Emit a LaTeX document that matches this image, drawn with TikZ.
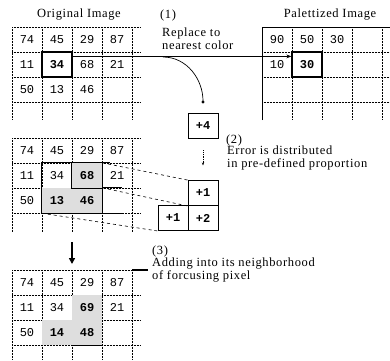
\documentclass[tikz,border=0pt]{standalone}
\usepackage{fontspec}
\usetikzlibrary{arrows.meta}
\newfontfamily\lblfamily[LetterSpace=5]{Liberation Serif}
\newfontfamily\numfamily{Liberation Mono}
\newcommand\lbltext{\lblfamily\fontsize{12.5}{13}\selectfont}
\newcommand\numtext{\numfamily\fontsize{12}{12}\selectfont}

\begin{document}
\begin{tikzpicture}[x=1pt,y=-1pt,
                    every node/.style={inner sep=1pt},
                    cellval/.style={font=\numtext},
                    cellbold/.style={font=\numtext\bfseries},
                    gridln/.style={densely dotted,line width=0.5pt},
                    shadecell/.style={fill=black!13,minimum width=30pt,minimum height=25pt,font=\numtext\bfseries},
                    focusbox/.style={draw,line width=1.2pt,minimum width=30pt,minimum height=25pt,font=\numtext\bfseries},
                    errbox/.style={draw,line width=0.9pt,minimum width=30pt,minimum height=25pt,font=\numtext\bfseries},
                    lbl/.style={font=\lbltext,anchor=west,align=left,inner sep=0pt}
                  ]
  \useasboundingbox (0,0) rectangle (390,360);

  \foreach \gx/\gy/\gr/\gb in {12/27/140/120, 262/27/390/120, 12/138/140/232, 12/270/140/360}{
    \foreach \dy in {0,25,50,75}
      \draw[gridln] (\gx,\gy+\dy) -- (\gr,\gy+\dy);
    \foreach \dx in {0,30,60,90,120}
      \draw[gridln] (\gx+\dx,\gy) -- (\gx+\dx,\gb);
  }
  \draw[line width=0.8pt] (262,120) -- (262,27) -- (390,27);

  \node (origtitle) at (79,15) {\lbltext Original Image};
  \node (paltitle) at (330,15) {\lbltext Palettized Image};

  \foreach \v [count=\c] in {74,45,29,87}
    \node[cellval] (oa\c) at (-3+30*\c,39.5) {\v};
  \node[cellval] (ob1) at (27,64.5) {11};
  \node[focusbox] (box34) at (57,64.5) {34};
  \node[cellval] (ob3) at (87,64.5) {68};
  \node[cellval] (ob4) at (117,64.5) {21};
  \foreach \v [count=\c] in {50,13,46}
    \node[cellval] (oc\c) at (-3+30*\c,89.5) {\v};

  \foreach \v [count=\c] in {90,50,30}
    \node[cellval] (pa\c) at (247+30*\c,39.5) {\v};
  \node[cellval] (pb1) at (277,64.5) {10};
  \node[focusbox] (box30) at (307,64.5) {30};

  \coordinate (split) at (163,57);
  \draw[line width=0.8pt,-{Stealth[length=5pt]}] ([yshift=-5pt]box34.north east) -- ([yshift=-5pt]box30.north west);

  \node[lbl] (step1) at (160,15) {(1)};
  \node[lbl] (step1txt) at (162,38.5) {Replace to\\nearest color};

  \node[errbox] (err4) at (203,125.5) {+4};
  \draw[line width=0.7pt,-{Circle[length=3pt]}] (split) to[out=0,in=90] ([yshift=9pt]err4.north);
  \draw[densely dotted,line width=0.7pt,-{Stealth[length=3pt]}] ([yshift=-12pt]err4.south) -- ([yshift=-27pt]err4.south);

  \node[lbl] (step2) at (226,140) {(2)};
  \node[lbl] (step2txt) at (227,158) {Error is distributed\\in pre-defined proportion};

  \foreach \v [count=\c] in {74,45,29,87}
    \node[cellval] (ma\c) at (-3+30*\c,150.5) {\v};
  \node[cellval] (mb1) at (27,175.5) {11};
  \node[cellval] (mb2) at (57,175.5) {34};
  \node[shadecell] (c68) at (87,175.5) {68};
  \node[cellval] (mb4) at (117,175.5) {21};
  \node[cellval] (mc1) at (27,200.5) {50};
  \node[shadecell] (c13) at (57,200.5) {13};
  \node[shadecell] (c46) at (87,200.5) {46};
  \draw[line width=1.2pt] (c13.south west) rectangle (c68.north east);
  \draw[line width=1.2pt] (c68.north west) -- (c68.south west) -- (c68.south east);
  \draw[line width=1.2pt] (c68.north east) -- ++(8,0);
  \draw[line width=1.2pt] (c46.north east) -- ++(20,0);
  \draw[line width=1.2pt] (c46.south east) -- ++(20,0);

  \node[errbox] (err1a) at (203,193) {+1};
  \node[errbox] (err1b) at (173,218) {+1};
  \node[errbox] (err2) at (203,218) {+2};
  \draw[dashed,line width=0.6pt] (c68.north east) -- (err1a.north west);
  \draw[dashed,line width=0.6pt] (c46.north east) -- (err1a.south west);
  \draw[dashed,line width=0.6pt] (c13.south west) -- (err1b.south west);

  \coordinate (down1) at (72,242);
  \coordinate (down2) at (72,264);
  \draw[line width=2pt,-{Triangle[length=6pt,width=6pt]}] (down1) -- (down2);

  \node[lbl] (step3) at (152,251) {(3)};
  \node[lbl] (step3txt) at (152,270.5) {Adding into its neighborhood\\of forcusing pixel};

  \foreach \v [count=\c] in {74,45,29,87}
    \node[cellval] (ra\c) at (-3+30*\c,282.5) {\v};
  \node[cellval] (rb1) at (27,307.5) {11};
  \node[cellval] (rb2) at (57,307.5) {34};
  \node[shadecell] (c69) at (87,307.5) {69};
  \node[cellval] (rb4) at (117,307.5) {21};
  \node[cellval] (rc1) at (27,332.5) {50};
  \node[shadecell] (c14) at (57,332.5) {14};
  \node[shadecell] (c48) at (87,332.5) {48};
  \draw[line width=1.2pt] (c48.south west) -- (c48.south east);
  \draw[line width=1.2pt] (132,270) -- (148,270);
\end{tikzpicture}
\end{document}
